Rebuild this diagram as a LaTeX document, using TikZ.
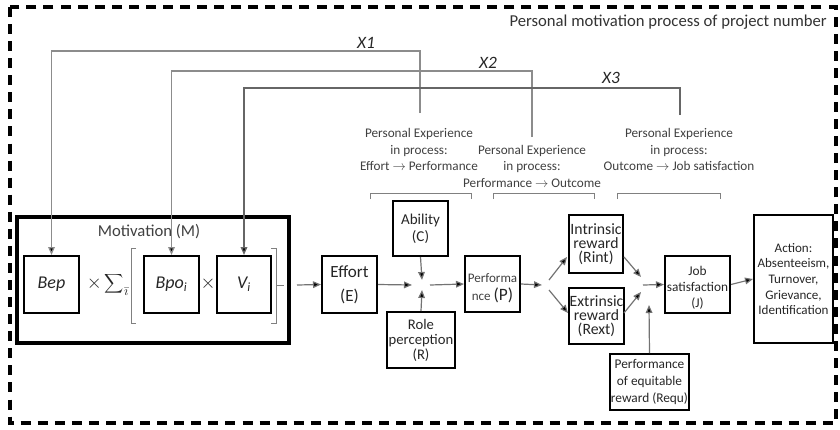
\documentclass[tikz,border=0pt]{standalone}
\usepackage{fontspec}
\setmainfont{Carlito}
\usetikzlibrary{arrows.meta}
\begin{document}
\begin{tikzpicture}[x=0.75pt,y=-0.75pt,
  box/.style={draw=black, line width=1.5pt, inner sep=0pt, align=center, text=black!85},
  sz/.style 2 args={minimum width=#1*0.75pt, minimum height=#2*0.75pt},
  fs/.style 2 args={font=\fontsize{#1}{#2}\selectfont},
  txt/.style={inner sep=0pt, align=center, text=black!85},
  link/.style={draw=black!55, line width=0.9pt, -{Triangle[length=6pt,width=5pt,fill=black]}},
  fb/.style={draw=black!45, line width=1pt, -{Triangle[length=6pt,width=5pt,fill=black]}},
  brace/.style={draw=black!50, line width=0.7pt},
  note/.style={txt, fs={9.9}{12.4}, text=black!75},
  xlbl/.style={txt, font=\fontsize{13}{15}\selectfont\itshape}
]
\useasboundingbox (0,0) rectangle (840,429);

% outer dashed frame and its caption
\draw[line width=2.3pt, dash pattern=on 7.5pt off 5.3pt] (10,7) rectangle (836,423);
\node[txt, fs={12.5}{14}, anchor=east, text=black!80] (title) at (827,22) {Personal motivation process of project number};

% motivation block
\node[box, line width=2.3pt, sz={272}{126}] (mot) at (153,280) {};
\node[txt, fs={12.5}{14}, text=black!75] (motlbl) at (149,232) {Motivation (M)};
\node[box, sz={55}{57}, fs={13.5}{16}] (bep) at (51.5,284.5) {\itshape Bep};
\node[txt, fs={14}{16}] (sum) at (108,284) {$\times\displaystyle\sum\nolimits_{\bar\imath}$};
\node[box, sz={55}{57}, fs={13.5}{16}] (bpo) at (171.5,284.5) {{\itshape Bpo}\textsubscript{\itshape i}};
\node[txt, fs={15}{17}] (times) at (208,284) {$\times$};
\node[box, sz={54}{57}, fs={13.5}{16}] (vi) at (244,284.5) {{\itshape V}\textsubscript{\itshape i}};
\draw[brace] (136,248) -- (131,248) -- (131,323) -- (136,323);
\draw[brace] (271,248) -- (276,248) -- (276,323) -- (271,323);
\draw[brace] (276,285) -- (284,285);

% process boxes
\node[box, sz={55}{57}, fs={12.8}{18}] (effort) at (349.5,284.5) {Effort\\(E)};
\node[box, sz={55}{55}, fs={11.3}{12.8}] (ability) at (420.5,228.5) {Ability\\(C)};
\node[box, sz={68}{56}, fs={11}{11.3}] (role) at (421,340) {Role\\perception\\(R)};
\node[box, sz={55}{56}] (perf) at (492.5,284) {};
\node[txt] (perflbl) at (492.5,288) {{\fontsize{9.8}{11}\selectfont\color{black!75}Performa}\\[1.5pt]{\fontsize{9.8}{11}\selectfont\color{black!75}nce }{\fontsize{13}{15}\selectfont(P)}};
\node[box, sz={54}{58}, fs={11.8}{10.5}] (intr) at (596,244) {Intrinsic\\reward\\(Rint)};
\node[box, sz={55}{56}, fs={11.8}{10.5}] (extr) at (596.5,316) {Extrinsic\\reward\\(Rext)};
\node[box, sz={65}{57}] (job) at (697.5,284.5) {};
\node[txt, fs={10}{12}] (joblbl) at (697.5,288) {Job\\satisfaction\\(J)};
\node[box, sz={79}{128}, fs={9.8}{11.8}] (action) at (793.5,279) {Action:\\Absenteeism,\\Turnover,\\Grievance,\\Identification};
\node[box, sz={79}{56}, fs={10}{12.4}] (requ) at (649.5,382) {Performance\\of equitable\\reward (Requ)};

% free ends of the connectors
\coordinate (mout) at (297,285);
\coordinate (jE) at (412,285);
\coordinate (jC) at (422,280);
\coordinate (jR) at (422,290);
\coordinate (jP) at (430,285);
\coordinate (pOut) at (542,285);
\coordinate (sUp) at (549,280);
\coordinate (sDn) at (549,290);
\coordinate (tUp) at (567,257);
\coordinate (tDn) at (568,313);
\coordinate (rInt) at (624,257);
\coordinate (rExt) at (624,313);
\coordinate (mUp) at (641,277);
\coordinate (mDn) at (641,292);
\coordinate (jIn) at (643,285);
\coordinate (qTip) at (649,305);

% main flow
\draw[link] (mout) -- (effort.west);
\draw[link] (effort.east) -- (jE);
\draw[link] (ability.south) -- (jC);
\draw[link] (role.north) -- (jR);
\draw[link] (jP) -- (perf.west);
\draw[link] (perf.east) -- (pOut);
\draw[link] (sUp) -- (tUp);
\draw[link] (sDn) -- (tDn);
\draw[link] (rInt) -- (mUp);
\draw[link] (rExt) -- (mDn);
\draw[link] (jIn) -- (job.west);
\draw[link] (requ.north) -- (qTip);
\draw[link] (job.east) -- (action.west);

% experience feedback loops
\coordinate (x1s) at (420,113);
\coordinate (x2s) at (532,137);
\coordinate (x3s) at (680,115);
\draw[fb] (x1s) -- (420,51) -- (bep.north |- 0,51) -- (bep.north);
\draw[fb] (x2s) -- (532,71) -- (bpo.north |- 0,71) -- (bpo.north);
\draw[fb, draw=black!60] (x3s) -- (680,88) -- (vi.north |- 0,88) -- (vi.north);
\node[xlbl] (x1) at (366,43) {X1};
\node[xlbl] (x2) at (488,63) {X2};
\node[xlbl] (x3) at (611,78) {X3};

% experience notes and their brackets
\node[note] (n1) at (419,149.5) {Personal Experience\\in process:\\Effort $\to$ Performance};
\node[note] (n2) at (532,166) {Personal Experience\\in process:\\Performance $\to$ Outcome};
\node[note] (n3) at (679,149.5) {Personal Experience\\in process:\\Outcome $\to$ Job satisfaction};
\draw[brace] (370,199) -- (370,193) -- (471,193) -- (471,199);
\draw[brace] (493,199) -- (493,193) -- (594,193) -- (594,199);
\draw[brace] (617,199) -- (617,193) -- (720,193) -- (720,199);
\end{tikzpicture}
\end{document}
